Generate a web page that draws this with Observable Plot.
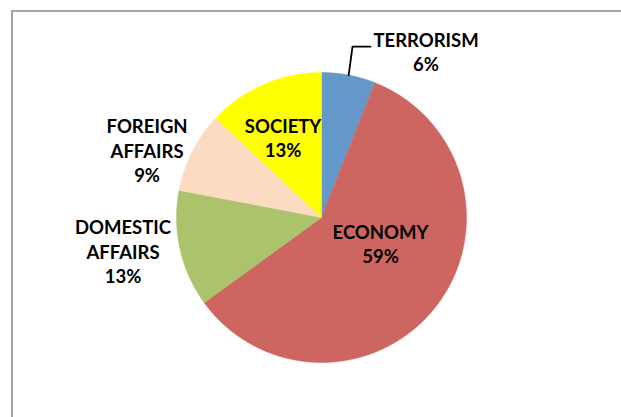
<!DOCTYPE html>
<html><head><meta charset="utf-8">
<script src="https://cdn.jsdelivr.net/npm/d3@7"></script>
<script src="https://cdn.jsdelivr.net/npm/@observablehq/plot@0.6"></script>
<style>
html,body{margin:0;padding:0;background:#fff;}
#wrap{position:relative;width:621px;height:417px;overflow:hidden;}
#frame{position:absolute;left:11px;top:10px;width:800px;height:600px;border-top:2px solid #a3a3a3;border-left:2px solid #a3a3a3;pointer-events:none;}
#chart{position:absolute;left:0;top:0;}
</style></head><body>
<div id="wrap"><div id="chart"></div><div id="frame"></div></div>
<script>
// ---- data ----
const categories = ["TERRORISM", "ECONOMY", "DOMESTIC AFFAIRS", "FOREIGN AFFAIRS", "SOCIETY"];
const labelNames = ["TERRORISM", "ECONOMY", "DOMESTIC\nAFFAIRS", "FOREIGN\nAFFAIRS", "SOCIETY"];
const values = [6, 59, 13, 9, 13];
const colors = ["#6398c9", "#cd6660", "#abc46c", "#fcdbc3", "#ffff00"];

// ---- layout (in radius units, origin at pie centre, y up) ----
const W = 621, H = 417, CX = 321, CY = 217, R = 145;
const labelOffsets = [[0.721, 1.148], [0.407, -0.179], [-1.369, -0.231], [-1.203, 0.466], [-0.265, 0.553]];
const leaderElbow = [[0.214, 1.179], [0.338, 1.179]];

const arcs = d3.pie().sort(null).value(d => d)(values);
const slices = [];
arcs.forEach((p, i) => {
  const cat = categories[i];
  const n = Math.max(2, Math.ceil((p.endAngle - p.startAngle) / (Math.PI / 360)));
  slices.push({cat, x: 0, y: 0});
  for (let k = 0; k <= n; k++) {
    const a = p.startAngle + (p.endAngle - p.startAngle) * k / n;
    slices.push({cat, x: Math.sin(a), y: Math.cos(a)});
  }
  slices.push({cat, x: 0, y: 0});
});

const labels = arcs.map((p, i) => ({
  x: labelOffsets[i][0], y: labelOffsets[i][1],
  text: labelNames[i] + "\n" + values[i] + "%"
}));

const mid0 = (arcs[0].startAngle + arcs[0].endAngle) / 2;
const leader = [{x: Math.sin(mid0), y: Math.cos(mid0)}, ...leaderElbow.map(([x, y]) => ({x, y}))];

const chart = Plot.plot({
  width: W, height: H, margin: 0,
  style: {fontFamily: "Lato", background: "transparent"},
  x: {axis: null, domain: [-CX / R, (W - CX) / R]},
  y: {axis: null, domain: [-(H - CY) / R, CY / R]},
  color: {domain: categories, range: colors},
  marks: [
    Plot.line(slices, {x: "x", y: "y", z: "cat", fill: "cat", stroke: "cat", strokeWidth: 0.5, curve: "linear"}),
    Plot.line(leader, {x: "x", y: "y", stroke: "#000", strokeWidth: 1.8}),
    Plot.text(labels, {x: "x", y: "y", text: "text", fontSize: 18.5, fontWeight: "bold", fontFamily: "Lato", lineHeight: 1.32, fill: "#000"})
  ]
});
document.getElementById("chart").appendChild(chart);
</script>
</body></html>
